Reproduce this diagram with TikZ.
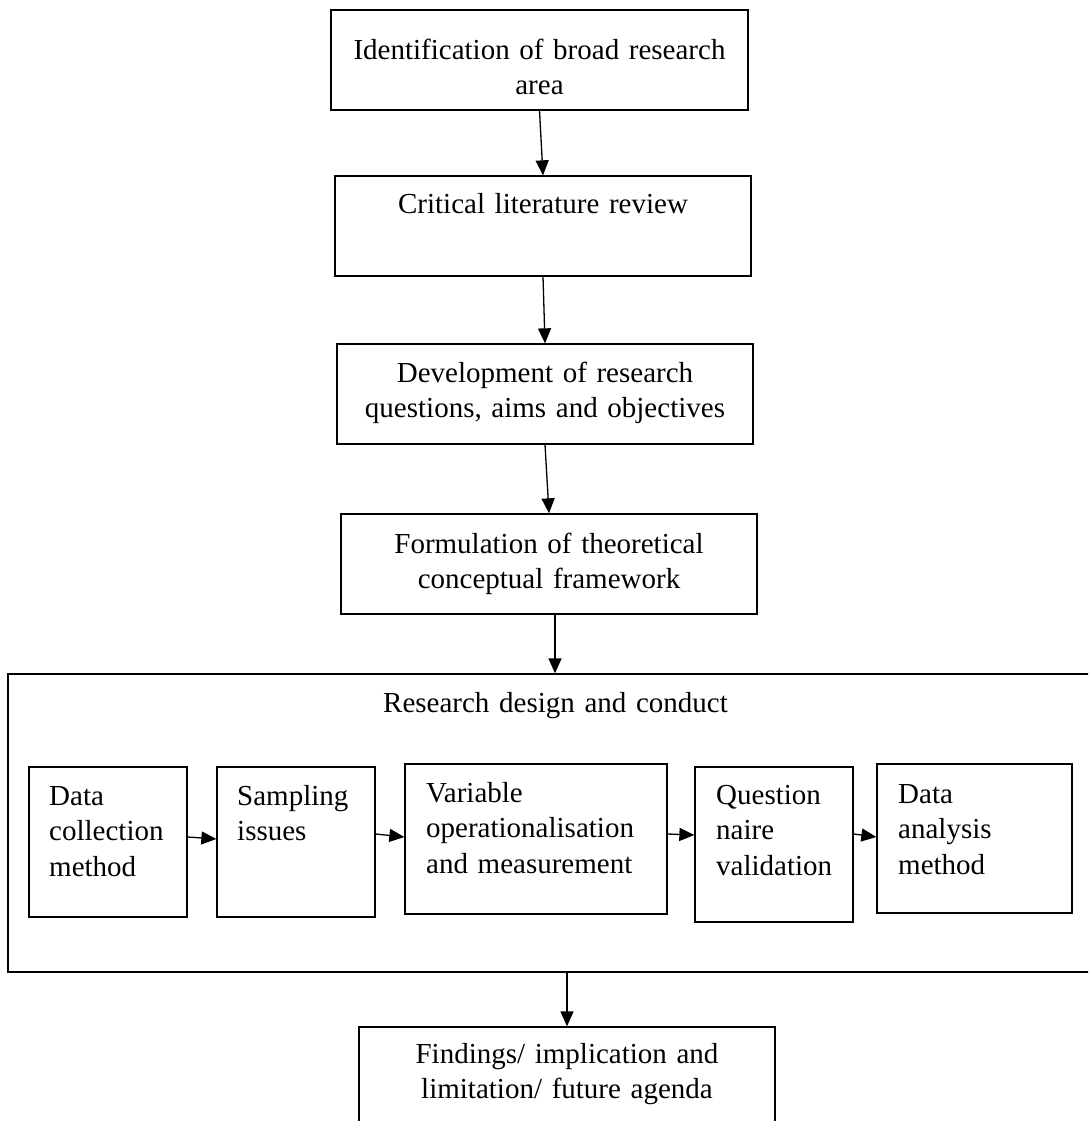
\documentclass[tikz,border=0pt]{standalone}
\usepackage{fontspec}
\setmainfont{Liberation Serif}
\usetikzlibrary{arrows.meta}
\begin{document}
\begin{tikzpicture}[x=1pt,y=-1pt,
  box/.style={draw=black, line width=1.3pt, inner sep=0pt},
  txt/.style={inner sep=0pt, font=\fontsize{29}{35.5}\selectfont, anchor=north, yshift=24.85pt},
  ctxt/.style={txt, align=center},
  ltxt/.style={txt, anchor=north west, align=left, text width=240pt},
  arr/.style={line width=1.3pt, -{Triangle[length=15pt,width=13pt]}}]
\clip (0,0) rectangle (1088,1121);
\fill[white] (0,0) rectangle (1088,1121);

% main chain of stages
\node[box, minimum width=417pt, minimum height=100pt] (b1) at (539.5,60) {};
\node[box, minimum width=416pt, minimum height=100pt] (b2) at (543,226) {};
\node[box, minimum width=416pt, minimum height=100pt] (b3) at (545,394) {};
\node[box, minimum width=416pt, minimum height=100pt] (b4) at (549,564) {};
\node[box, minimum width=1087pt, minimum height=298pt] (big) at (551.5,823) {};
\node[box, minimum width=416pt, minimum height=110pt] (fin) at (567,1082) {};

% steps of the research design
\node[box, minimum width=158pt, minimum height=150pt] (i1) at (108,842) {};
\node[box, minimum width=158pt, minimum height=150pt] (i2) at (296,842) {};
\node[box, minimum width=262pt, minimum height=150pt] (i3) at (536,839) {};
\node[box, minimum width=158pt, minimum height=155pt] (i4) at (774,844.5) {};
\node[box, minimum width=195pt, minimum height=149pt] (i5) at (974.5,838.5) {};

% labels
\node[ctxt, text width=417pt] (t1) at (539.5,59) {\strut Identification of broad research\\area};
\node[ctxt, text width=416pt] (t2) at (543,213) {\strut Critical literature review};
\node[ctxt, text width=416pt] (t3) at (545,382) {\strut Development of research\\questions, aims and objectives};
\node[ctxt, text width=416pt] (t4) at (549,553) {\strut Formulation of theoretical\\conceptual framework};
\node[ltxt, text width=500pt] (tbig) at (383,712) {\strut Research design and conduct};
\node[ltxt] (ti1) at (49,805) {\strut Data\\collection\\method};
\node[ltxt] (ti2) at (237,805) {\strut Sampling\\issues};
\node[ltxt] (ti3) at (426,802) {\strut Variable\\operationalisation\\and measurement};
\node[ltxt] (ti4) at (716,804) {\strut Question\\naire\\validation};
\node[ltxt] (ti5) at (898,803) {\strut Data\\analysis\\method};
\node[ctxt, text width=416pt] (tfin) at (567,1063) {\strut Findings/ implication and\\limitation/ future agenda};

% connectors
\draw[arr] (b1.south) -- (b2.north);
\draw[arr] (b2.south) -- (b3.north);
\draw[arr] (b3.south) -- (b4.north);
\draw[arr] ([xshift=6pt]b4.south) -- ([xshift=6pt]b4.south |- big.north);
\draw[arr] (big.south -| fin.north) -- (fin.north);

\draw[arr] (i1.east |- 0,837) -- (i2.west |- 0,839);
\draw[arr] (i2.east |- 0,834) -- (i3.west |- 0,837);
\draw[arr] (i3.east |- 0,834) -- (i4.west |- 0,835);
\draw[arr] (i4.east |- 0,834) -- (i5.west |- 0,837);
\end{tikzpicture}
\end{document}
